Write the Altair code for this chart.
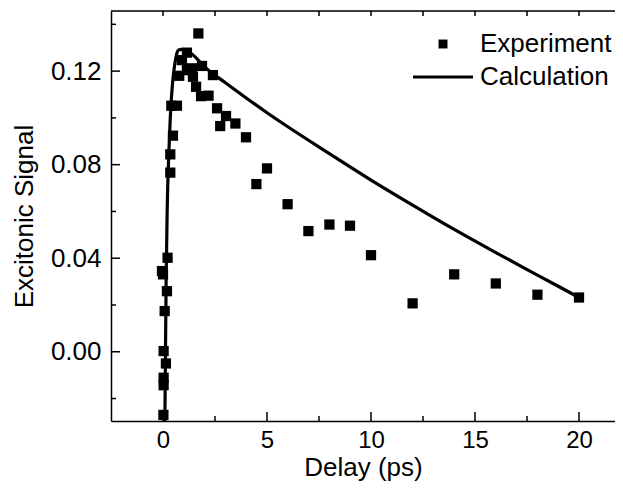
import altair as alt
import pandas as pd

# Experimental points (Delay ps, Excitonic signal)
exp_x = [-0.05, 0.0, 0.19, 0.08, 0.22, 0.03, 0.14, 0.03, 0.03, 0.02,
         0.35, 0.35, 0.48, 0.40, 0.67, 0.78, 0.91, 1.15, 1.15, 1.39,
         1.44, 1.59, 1.70, 1.83, 1.875, 2.19, 2.40, 2.60, 2.75, 3.03,
         3.48, 3.99, 4.49, 5.00, 5.99, 6.99, 8.0, 8.99, 10.0, 12.0,
         14.0, 16.0, 18.0, 20.0]
exp_y = [0.0345, 0.0331, 0.0259, 0.0174, 0.0402, 0.0003, -0.0050, -0.0111, -0.0143, -0.0270,
         0.0766, 0.0844, 0.0924, 0.1052, 0.1052, 0.1180, 0.1247, 0.1279, 0.1204, 0.1212,
         0.1176, 0.1133, 0.1361, 0.1093, 0.1222, 0.1095, 0.1183, 0.1041, 0.0965, 0.1008,
         0.0976, 0.0917, 0.0717, 0.0784, 0.0631, 0.0516, 0.0544, 0.0539, 0.0413, 0.0207,
         0.0331, 0.0292, 0.0244, 0.0232]

# Calculated curve
calc_x = [0.08, 0.10, 0.12, 0.15, 0.20, 0.28, 0.35, 0.45, 0.55, 0.65,
          0.75, 0.90, 1.10, 1.40, 2.0, 3.0, 4.0, 5.0, 6.0, 8.0,
          10.0, 12.0, 14.0, 16.0, 18.0, 20.0]
calc_y = [-0.035, -0.020, 0.000, 0.030, 0.060, 0.085, 0.100, 0.114, 0.122, 0.127,
          0.129, 0.1293, 0.1288, 0.1272, 0.1218, 0.1150, 0.1085, 0.1022, 0.0962, 0.0847,
          0.0734, 0.0627, 0.0523, 0.0424, 0.0328, 0.0232]

x_major = [0, 5, 10, 15, 20]
x_minor = [2.5, 7.5, 12.5, 17.5]
x_top = [0, 2.5, 5, 7.5, 10, 12.5, 15, 17.5, 20]
y_major = [0.0, 0.04, 0.08, 0.12]
y_minor = [-0.02, 0.02, 0.06, 0.10, 0.14]

legend_labels = ["Experiment", "Calculation"]

W, H = 504, 410
FONT = "Liberation Sans"
FS = 26
XFS = 24
LFS = 26

xscale = alt.Scale(domain=[-2.5, 21.73], nice=False, zero=False)
yscale = alt.Scale(domain=[-0.0296, 0.1457], nice=False, zero=False)

xaxis = alt.Axis(title="Delay (ps)", orient="bottom", values=x_major, format="d",
                 ticks=False, grid=False, domainColor="black", domainWidth=1.5,
                 labelFont=FONT, labelFontSize=XFS, labelColor="black", labelPadding=7,
                 titleFont=FONT, titleFontSize=FS, titleFontWeight="normal",
                 titleColor="black", titlePadding=2)
yaxis = alt.Axis(title="Excitonic Signal", orient="left", values=y_major, format=".2f",
                 ticks=False, grid=False, domainColor="black", domainWidth=1.5,
                 labelFont=FONT, labelFontSize=FS, labelColor="black", labelPadding=10,
                 titleFont=FONT, titleFontSize=FS, titleFontWeight="normal",
                 titleColor="black", titlePadding=13)

exp_df = pd.DataFrame({"x": exp_x, "y": exp_y})
calc_df = pd.DataFrame({"x": calc_x, "y": calc_y})

points = alt.Chart(exp_df).mark_square(size=105, color="black", opacity=1, clip=True).encode(
    x=alt.X("x:Q", scale=xscale, axis=xaxis),
    y=alt.Y("y:Q", scale=yscale, axis=yaxis),
)

line = alt.Chart(calc_df).mark_line(color="black", strokeWidth=3.2, clip=True,
                                    interpolate="monotone").encode(
    x=alt.X("x:Q", scale=xscale, axis=xaxis),
    y=alt.Y("y:Q", scale=yscale, axis=yaxis),
)

def xticks(vals, y0, y1):
    return alt.Chart(pd.DataFrame({"x": vals})).mark_rule(color="black", strokeWidth=1.5).encode(
        x=alt.X("x:Q", scale=xscale, axis=xaxis), y=alt.value(y0), y2=alt.value(y1))

def yticks(vals, length):
    return alt.Chart(pd.DataFrame({"y": vals})).mark_rule(color="black", strokeWidth=1.5).encode(
        y=alt.Y("y:Q", scale=yscale, axis=yaxis), x=alt.value(0), x2=alt.value(length))

top_frame = alt.Chart(pd.DataFrame({"a": [0]})).mark_rule(color="black", strokeWidth=1.5).encode(
    x=alt.value(0), x2=alt.value(W), y=alt.value(0))

leg0 = pd.DataFrame({"label": [legend_labels[0]]})
leg1 = pd.DataFrame({"label": [legend_labels[1]]})
leg_sym = alt.Chart(leg0).mark_square(size=80, color="black", opacity=1).encode(
    x=alt.value(332), y=alt.value(33))
leg_line = alt.Chart(leg1).mark_rule(color="black", strokeWidth=3.2).encode(
    x=alt.value(302), x2=alt.value(362), y=alt.value(66))
leg_text0 = alt.Chart(leg0).mark_text(align="left", baseline="middle", font=FONT,
                                      fontSize=LFS, color="black").encode(
    text="label:N", x=alt.value(369), y=alt.value(33))
leg_text1 = alt.Chart(leg1).mark_text(align="left", baseline="middle", font=FONT,
                                      fontSize=LFS, color="black").encode(
    text="label:N", x=alt.value(369), y=alt.value(66))

chart = alt.layer(
    points, line, top_frame,
    xticks(x_major, H, H - 9), xticks(x_minor, H, H - 5), xticks(x_top, 0, 5),
    yticks(y_major, 9), yticks(y_minor, 5),
    leg_sym, leg_line, leg_text0, leg_text1,
).properties(
    width=W, height=H,
    autosize=alt.AutoSizeParams(type="none"),
    padding={"left": 103, "top": 3, "right": 0, "bottom": 64},
).configure_view(stroke=None).configure(background="white")

chart.save("out.html", embed_options={"renderer": "svg", "actions": False})
